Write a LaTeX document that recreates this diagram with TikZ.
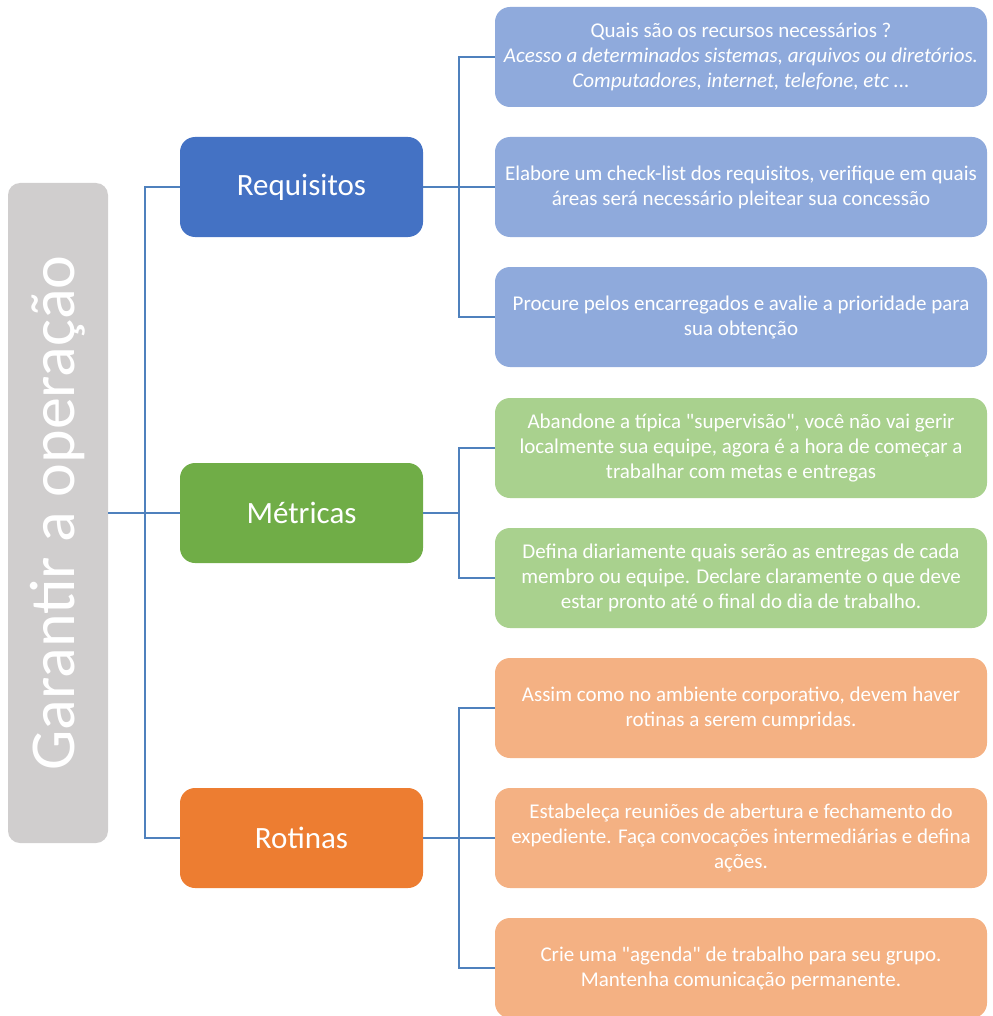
\documentclass[tikz,border=0pt]{standalone}
\usepackage{fontspec}
\setmainfont{Carlito}
\definecolor{rootgray}{HTML}{D0CECE}
\definecolor{linkblue}{HTML}{4F81BD}
\definecolor{reqdark}{HTML}{4472C4}
\definecolor{reqlight}{HTML}{8FAADC}
\definecolor{metdark}{HTML}{70AD47}
\definecolor{metlight}{HTML}{A9D18E}
\definecolor{rotdark}{HTML}{ED7D31}
\definecolor{rotlight}{HTML}{F4B183}

\begin{document}
\begin{tikzpicture}[x=1pt, y=-1pt,
    root/.style={rectangle, rounded corners=12pt, fill=rootgray, text=white,
        minimum width=100pt, minimum height=660pt, inner sep=0pt},
    topic/.style={rectangle, rounded corners=15pt, text=white,
        minimum width=243pt, minimum height=100pt, inner sep=0pt,
        font=\fontsize{31}{37}\selectfont},
    item/.style={rectangle, rounded corners=15pt, text=white, align=center,
        minimum width=492pt, minimum height=100pt, inner sep=0pt,
        font=\fontsize{21}{25}\selectfont},
    link/.style={draw=linkblue, line width=2.5pt}
]
    \useasboundingbox (0,0) rectangle (992,1016);
    \node[root] (root) at (58,513) {\rotatebox{90}{\fontsize{64}{76}\selectfont Garantir a operação}};
    \node[topic, fill=reqdark] (req) at (301.5,187) {Requisitos};
    \node[topic, fill=metdark] (met) at (301.5,513) {Métricas};
    \node[topic, fill=rotdark] (rot) at (301.5,838) {Rotinas};
    \node[item, fill=reqlight] (req1) at (741,57) {Quais são os recursos necessários ?\\
        \itshape Acesso a determinados sistemas, arquivos ou diretórios.\\
        \itshape Computadores, internet, telefone, etc ...};
    \node[item, fill=reqlight] (req2) at (741,187) {Elabore um check-list dos requisitos, verifique em quais\\
        áreas será necessário pleitear sua concessão};
    \node[item, fill=reqlight] (req3) at (741,317) {Procure pelos encarregados e avalie a prioridade para\\
        sua obtenção};
    \node[item, fill=metlight] (met1) at (741,448) {Abandone a típica \textquotedbl supervisão\textquotedbl, você não vai gerir\\
        localmente sua equipe, agora é a hora de começar a\\ trabalhar com metas e entregas};
    \node[item, fill=metlight] (met2) at (741,578) {Defina diariamente quais serão as entregas de cada\\
        membro ou equipe. Declare claramente o que deve\\ estar pronto até o final do dia de trabalho.};
    \node[item, fill=rotlight] (rot1) at (741,708) {Assim como no ambiente corporativo, devem haver\\
        rotinas a serem cumpridas.};
    \node[item, fill=rotlight] (rot2) at (741,838) {Estabeleça reuniões de abertura e fechamento do\\
        expediente. Faça convocações intermediárias e defina\\ ações.};
    \node[item, fill=rotlight] (rot3) at (741,968) {Crie uma \textquotedbl agenda\textquotedbl{} de trabalho para seu grupo.\\
        Mantenha comunicação permanente.};
    \draw[link] (root) -- (met);
    \draw[link] (req.west) -| ([xshift=-35pt]met.west) |- (rot.west);
    \draw[link] (req1.west) -| ([xshift=36pt]req.east) |- (req3.west);
    \draw[link] (req) -- (req2);
    \draw[link] (met1.west) -| ([xshift=36pt]met.east) |- (met2.west);
    \draw[link] (met) -- ([xshift=36pt]met.east);
    \draw[link] (rot1.west) -| ([xshift=36pt]rot.east) |- (rot3.west);
    \draw[link] (rot) -- (rot2);
\end{tikzpicture}
\end{document}
